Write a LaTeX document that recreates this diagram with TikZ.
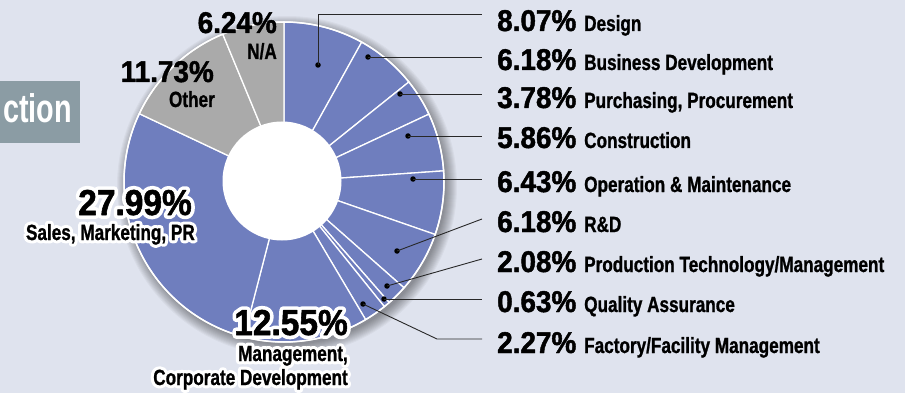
\documentclass[tikz,border=0pt]{standalone}
\usepackage{fontspec}
\setmainfont{Liberation Sans}
\newfontfamily\pctfont[FakeStretch=0.93, FakeBold=1.5]{Liberation Sans}
\newfontfamily\labfont[FakeStretch=0.78, FakeBold=1]{Liberation Sans}
\newfontfamily\pcthalo[FakeStretch=0.93, FakeBold=22]{Liberation Sans}
\newfontfamily\labhalo[FakeStretch=0.78, FakeBold=30]{Liberation Sans}
\newfontfamily\boxfont[FakeStretch=0.72]{Liberation Sans}
\definecolor{bg}{RGB}{223,227,238}
\definecolor{pieblue}{RGB}{111,126,190}
\definecolor{piegray}{RGB}{170,170,170}
\definecolor{boxgray}{RGB}{139,156,164}
\definecolor{leader}{RGB}{40,40,40}
\newcommand\halopct[1]{\rlap{\pcthalo\bfseries\textcolor{white}{#1}}#1}
\newcommand\halolab[1]{\rlap{\labhalo\bfseries\textcolor{white}{#1}}#1}
\newcommand\pieslice[3]{\filldraw[fill=#3, draw=white, line width=1.3pt, line join=round] (C) -- ++({-90+3.6*#1}:160) arc[start angle={-90+3.6*#1}, end angle={-90+3.6*#2}, radius=160] -- cycle;}
\begin{document}
\begin{tikzpicture}[x=1pt,y=-1pt, line join=round, line cap=round,
  pct/.style={font=\pctfont\bfseries\fontsize{30}{30}\selectfont, inner sep=0pt, anchor=base west},
  lab/.style={font=\labfont\bfseries\fontsize{22}{22}\selectfont, inner sep=0pt, anchor=base west},
  pctl/.style={font=\pctfont\bfseries\fontsize{30}{30}\selectfont, inner sep=0pt, anchor=base east},
  labl/.style={font=\labfont\bfseries\fontsize{22}{22}\selectfont, inner sep=0pt, anchor=base east},
  big/.style={font=\pctfont\bfseries\fontsize{36}{36}\selectfont, inner sep=0pt, anchor=base east},
  halotxt/.style={line join=round, line cap=round},
  dotn/.style={circle, fill=black, inner sep=0pt, minimum size=5.5pt},
  leadline/.style={draw=leader, line width=0.9pt, line cap=butt},
  boxtxt/.style={font=\boxfont\bfseries\fontsize{40}{40}\selectfont, text=white, inner sep=0pt, anchor=base east}]
\useasboundingbox (0,0) rectangle (905,393);
\fill[bg] (0,0) rectangle (905,393);
% left box
\fill[boxgray] (0,81) rectangle (80,143);
\node[boxtxt] (bt) at (72,123) {ction};
% pie
\coordinate (C) at (284,182);
\foreach \i in {1,...,12} {\fill[black, opacity=0.035] (287,186) circle[radius={158+\i}];}
\pieslice{0}{8.07}{pieblue}
\pieslice{8.07}{14.25}{pieblue}
\pieslice{14.25}{18.03}{pieblue}
\pieslice{18.03}{23.89}{pieblue}
\pieslice{23.89}{30.32}{pieblue}
\pieslice{30.32}{36.50}{pieblue}
\pieslice{36.50}{38.58}{pieblue}
\pieslice{38.58}{39.21}{pieblue}
\pieslice{39.21}{41.48}{pieblue}
\pieslice{41.48}{54.03}{pieblue}
\pieslice{54.03}{82.02}{pieblue}
\pieslice{82.02}{93.75}{piegray}
\pieslice{93.75}{100}{piegray}
\draw[white, line width=1.5pt] (C) circle[radius=160];
\fill[white] (282,181) circle[radius=59.5];
% dots
\node[dotn] (d1) at (318,65) {};
\node[dotn] (d2) at (368,57) {};
\node[dotn] (d3) at (400,94) {};
\node[dotn] (d4) at (408,136) {};
\node[dotn] (d5) at (413,179) {};
\node[dotn] (d6) at (397,251) {};
\node[dotn] (d7) at (387,286) {};
\node[dotn] (d8) at (384,299) {};
\node[dotn] (d9) at (363,304) {};
% line ends
\coordinate (e1) at (482,14);
\coordinate (e2) at (482,57);
\coordinate (e3) at (482,94);
\coordinate (e4) at (482,136);
\coordinate (e5) at (482,179);
\coordinate (e6) at (482,219);
\coordinate (e7) at (482,259);
\coordinate (e8) at (482,299);
\coordinate (e9) at (482,339);
\coordinate (k9) at (437,339);
\draw[leadline] (d1.center) |- (e1);
\draw[leadline] (d2.center) -- (e2);
\draw[leadline] (d3.center) -- (e3);
\draw[leadline] (d4.center) -- (e4);
\draw[leadline] (d5.center) -- (e5);
\draw[leadline] (d6.center) -- (e6);
\draw[leadline] (d7.center) -- (e7);
\draw[leadline] (d8.center) -- (e8);
\draw[leadline] (d9.center) -- (k9) -- (e9);
% right labels
\node[pct] (p1) at (497,31) {8.07\%};
\node[lab] (l1) at (584,31) {Design};
\node[pct] (p2) at (497,70) {6.18\%};
\node[lab] (l2) at (584,70) {Business Development};
\node[pct] (p3) at (497,108) {3.78\%};
\node[lab] (l3) at (584,108) {Purchasing, Procurement};
\node[pct] (p4) at (497,148) {5.86\%};
\node[lab] (l4) at (584,148) {Construction};
\node[pct] (p5) at (497,192) {6.43\%};
\node[lab] (l5) at (584,192) {Operation \& Maintenance};
\node[pct] (p6) at (497,232) {6.18\%};
\node[lab] (l6) at (584,232) {R\&D};
\node[pct] (p7) at (497,272) {2.08\%};
\node[lab] (l7) at (584,272) {Production Technology/Management};
\node[pct] (p8) at (497,312) {0.63\%};
\node[lab] (l8) at (584,312) {Quality Assurance};
\node[pct] (p9) at (497,353) {2.27\%};
\node[lab] (l9) at (584,353) {Factory/Facility Management};
% left labels
\node[pctl] (pna) at (277,33) {6.24\%};
\node[labl] (lna) at (277,59) {N/A};
\node[pctl] (pot) at (214,82) {11.73\%};
\node[labl] (lot) at (215,107) {Other};
\node[big, halotxt] (psa) at (192,215) {\halopct{27.99\%}};
\node[labl, halotxt] (lsa) at (195,240) {\halolab{Sales, Marketing, PR}};
\node[big, halotxt] (pma) at (348,335) {\halopct{12.55\%}};
\node[labl, halotxt] (lma) at (348,361) {\halolab{Management,}};
\node[labl, halotxt] (lco) at (348,385) {\halolab{Corporate Development}};
\end{tikzpicture}
\end{document}
